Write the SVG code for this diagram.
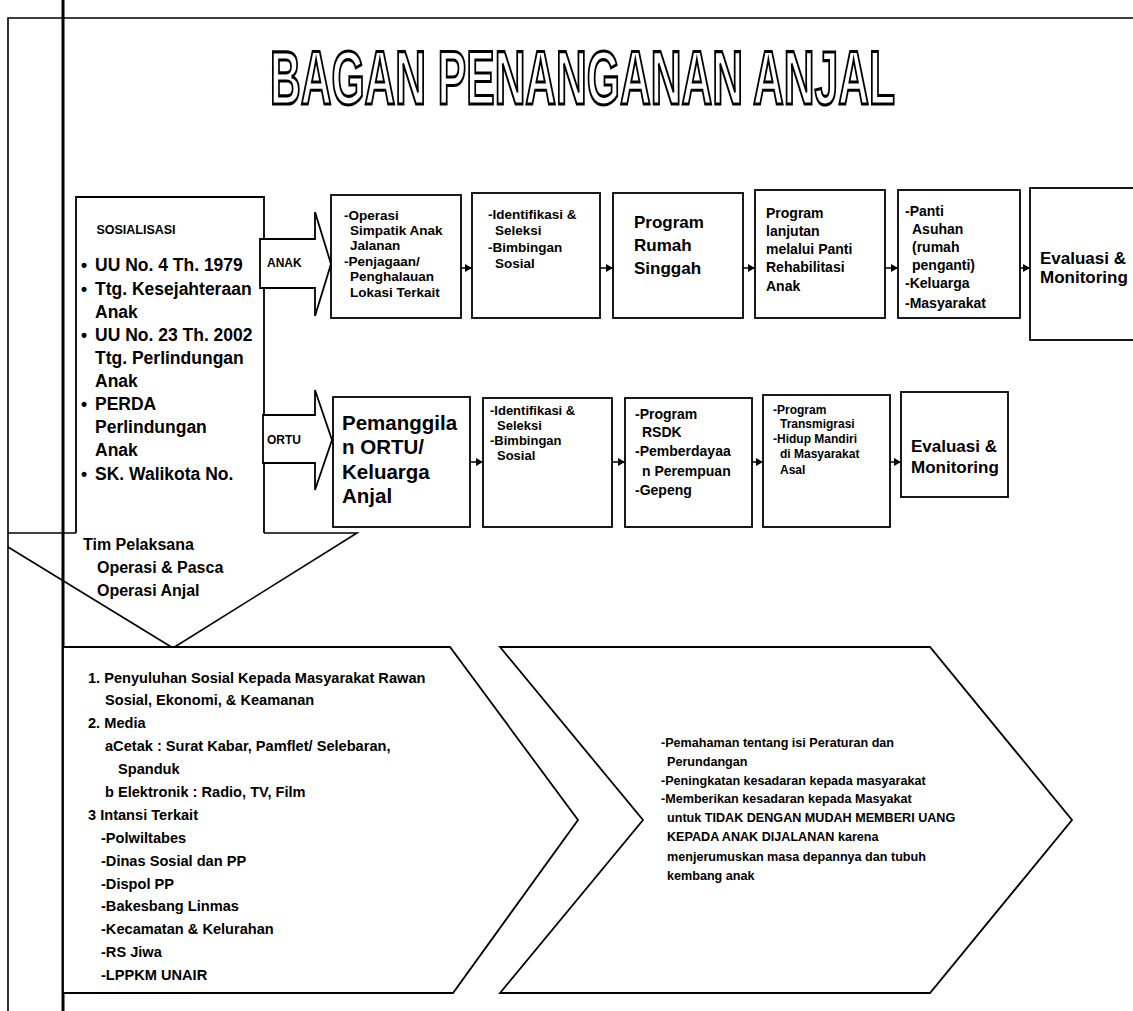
<svg xmlns="http://www.w3.org/2000/svg" width="1133" height="1011" viewBox="0 0 1133 1011">
<style>
.ln{fill:none;stroke:#000;stroke-width:1.6}
.bx{fill:#fff;stroke:#000;stroke-width:1.8}
.t{font-family:'Liberation Sans',Arial,sans-serif;font-weight:bold;fill:#000}
.cn{fill:none;stroke:#000;stroke-width:1.5}
</style>
<defs>
<marker id="ah" markerWidth="8" markerHeight="8" refX="7" refY="4" orient="auto" markerUnits="userSpaceOnUse">
<path d="M0,0 L7,4 L0,8 z" fill="#000"/>
</marker>
</defs>
<rect width="1133" height="1011" fill="#fff"/>

<g id="frame">
<path class="ln" d="M8,1011 V18 H1133"/>
<path class="ln" d="M8,533 H76"/>
<path class="ln" d="M264,533 H357 L173,648 L8,547"/>
<path fill="none" stroke="#000" stroke-width="3" d="M63,0 V1011"/>
<text class="t" font-size="16" x="83" y="550">Tim Pelaksana</text>
<text class="t" font-size="16" x="97" y="573">Operasi &amp; Pasca</text>
<text class="t" font-size="16" x="97" y="596">Operasi Anjal</text>
</g>

<g id="title">
<text transform="scale(1,1.6)" x="270" y="65" font-family="'Liberation Sans',Arial,sans-serif" font-weight="bold" font-size="48" fill="#fff" stroke="#000" stroke-width="2.6" vector-effect="non-scaling-stroke" textLength="625" lengthAdjust="spacingAndGlyphs">BAGAN PENANGANAN ANJAL</text>
</g>

<g id="node-sosialisasi">
<path class="bx" d="M76,533 V197 H264 V533"/>
<text class="t" font-size="12.5" x="136" y="234" text-anchor="middle">SOSIALISASI</text>
<g class="t" font-size="17.5">
<text class="t" x="81" y="271">•</text><text class="t" x="95" y="271">UU No. 4 Th. 1979</text>
<text class="t" x="81" y="295">•</text><text class="t" x="95" y="295">Ttg. Kesejahteraan</text>
<text class="t" x="95" y="318">Anak</text>
<text class="t" x="81" y="341">•</text><text class="t" x="95" y="341">UU No. 23 Th. 2002</text>
<text class="t" x="95" y="364">Ttg. Perlindungan</text>
<text class="t" x="95" y="387">Anak</text>
<text class="t" x="81" y="410">•</text><text class="t" x="95" y="410">PERDA</text>
<text class="t" x="95" y="433">Perlindungan</text>
<text class="t" x="95" y="456">Anak</text>
<text class="t" x="81" y="480">•</text><text class="t" x="95" y="480">SK. Walikota No.</text>
</g>
</g>

<g id="node-anak">
<polygon class="bx" points="260,239 315,239 315,212 331,264 315,316 315,288 260,288"/>
<text class="t" font-size="12" x="267" y="267">ANAK</text>
</g>
<g id="node-ortu">
<polygon class="bx" points="263,415 315,415 315,390 332,440 315,490 315,463 263,463"/>
<text class="t" font-size="12" x="267" y="444">ORTU</text>
</g>

<g id="node-a1">
<rect class="bx" x="331" y="195" width="130" height="123"/>
<g class="t" font-size="13.5">
<text class="t" x="344" y="220">-Operasi</text>
<text class="t" x="350" y="235">Simpatik Anak</text>
<text class="t" x="350" y="250">Jalanan</text>
<text class="t" x="344" y="266">-Penjagaan/</text>
<text class="t" x="350" y="281">Penghalauan</text>
<text class="t" x="350" y="297">Lokasi Terkait</text>
</g>
</g>
<g id="node-a2">
<rect class="bx" x="472" y="193" width="128" height="125"/>
<g class="t" font-size="13.5">
<text class="t" x="488" y="219">-Identifikasi &amp;</text>
<text class="t" x="495" y="235">Seleksi</text>
<text class="t" x="488" y="252">-Bimbingan</text>
<text class="t" x="495" y="268">Sosial</text>
</g>
</g>
<g id="node-a3">
<rect class="bx" x="613" y="193" width="130" height="125"/>
<g class="t" font-size="17">
<text class="t" x="634" y="228">Program</text>
<text class="t" x="634" y="251">Rumah</text>
<text class="t" x="634" y="274">Singgah</text>
</g>
</g>
<g id="node-a4">
<rect class="bx" x="755" y="190" width="130" height="128"/>
<g class="t" font-size="14">
<text class="t" x="766" y="218">Program</text>
<text class="t" x="766" y="236">lanjutan</text>
<text class="t" x="766" y="254">melalui Panti</text>
<text class="t" x="766" y="272">Rehabilitasi</text>
<text class="t" x="766" y="291">Anak</text>
</g>
</g>
<g id="node-a5">
<rect class="bx" x="898" y="190" width="122" height="128"/>
<g class="t" font-size="14">
<text class="t" x="905" y="216">-Panti</text>
<text class="t" x="912" y="234">Asuhan</text>
<text class="t" x="912" y="252">(rumah</text>
<text class="t" x="912" y="270">penganti)</text>
<text class="t" x="905" y="288">-Keluarga</text>
<text class="t" x="905" y="308">-Masyarakat</text>
</g>
</g>
<g id="node-a6">
<rect class="bx" x="1030" y="188" width="110" height="152"/>
<g class="t" font-size="17">
<text class="t" x="1040" y="264">Evaluasi &amp;</text>
<text class="t" x="1040" y="283">Monitoring</text>
</g>
</g>

<g id="node-b1">
<rect class="bx" x="333" y="397" width="137" height="130"/>
<g class="t" font-size="20.5">
<text class="t" x="342" y="430">Pemanggila</text>
<text class="t" x="342" y="454">n ORTU/</text>
<text class="t" x="342" y="479">Keluarga</text>
<text class="t" x="342" y="503">Anjal</text>
</g>
</g>
<g id="node-b2">
<rect class="bx" x="483" y="398" width="129" height="129"/>
<g class="t" font-size="13">
<text class="t" x="490" y="415">-Identifikasi &amp;</text>
<text class="t" x="497" y="430">Seleksi</text>
<text class="t" x="490" y="445">-Bimbingan</text>
<text class="t" x="497" y="460">Sosial</text>
</g>
</g>
<g id="node-b3">
<rect class="bx" x="625" y="398" width="127" height="129"/>
<g class="t" font-size="14">
<text class="t" x="635" y="419">-Program</text>
<text class="t" x="642" y="437">RSDK</text>
<text class="t" x="635" y="456">-Pemberdayaa</text>
<text class="t" x="642" y="476">n Perempuan</text>
<text class="t" x="635" y="495">-Gepeng</text>
</g>
</g>
<g id="node-b4">
<rect class="bx" x="763" y="395" width="127" height="132"/>
<g class="t" font-size="12">
<text class="t" x="773" y="414">-Program</text>
<text class="t" x="780" y="428">Transmigrasi</text>
<text class="t" x="773" y="443">-Hidup Mandiri</text>
<text class="t" x="780" y="458">di Masyarakat</text>
<text class="t" x="780" y="474">Asal</text>
</g>
</g>
<g id="node-b5">
<rect class="bx" x="901" y="392" width="107" height="105"/>
<g class="t" font-size="17">
<text class="t" x="911" y="452">Evaluasi &amp;</text>
<text class="t" x="911" y="473">Monitoring</text>
</g>
</g>

<g id="node-chevron-left">
<polygon class="bx" points="63,647 450,647 578,820 453,993 63,993"/>
<g class="t" font-size="14.6">
<text class="t" x="88" y="683">1. Penyuluhan Sosial Kepada Masyarakat Rawan</text>
<text class="t" x="105" y="705">Sosial, Ekonomi, &amp; Keamanan</text>
<text class="t" x="88" y="728">2. Media</text>
<text class="t" x="105" y="751">aCetak : Surat Kabar, Pamflet/ Selebaran,</text>
<text class="t" x="118" y="774">Spanduk</text>
<text class="t" x="105" y="797">b Elektronik : Radio, TV, Film</text>
<text class="t" x="88" y="820">3  Intansi Terkait</text>
<text class="t" x="101" y="843">-Polwiltabes</text>
<text class="t" x="101" y="866">-Dinas Sosial dan PP</text>
<text class="t" x="101" y="889">-Dispol PP</text>
<text class="t" x="101" y="911">-Bakesbang Linmas</text>
<text class="t" x="101" y="934">-Kecamatan &amp; Kelurahan</text>
<text class="t" x="101" y="957">-RS Jiwa</text>
<text class="t" x="101" y="980">-LPPKM UNAIR</text>
</g>
</g>

<g id="node-chevron-right">
<polygon class="bx" points="500,647 930,647 1072,820 930,993 500,993 643,820"/>
<g class="t" font-size="12.6">
<text class="t" x="661" y="747">-Pemahaman tentang isi Peraturan dan</text>
<text class="t" x="667" y="766">Perundangan</text>
<text class="t" x="661" y="785">-Peningkatan kesadaran kepada masyarakat</text>
<text class="t" x="661" y="803">-Memberikan kesadaran kepada Masyakat</text>
<text class="t" x="667" y="822">untuk TIDAK DENGAN MUDAH MEMBERI UANG</text>
<text class="t" x="667" y="841">KEPADA ANAK DIJALANAN karena</text>
<text class="t" x="667" y="861">menjerumuskan masa depannya dan tubuh</text>
<text class="t" x="667" y="880">kembang anak</text>
</g>
</g>

<g id="connectors">
<line class="cn" x1="461" y1="268" x2="472" y2="268" marker-end="url(#ah)"/>
<line class="cn" x1="600" y1="268" x2="613" y2="268" marker-end="url(#ah)"/>
<line class="cn" x1="743" y1="268" x2="755" y2="268" marker-end="url(#ah)"/>
<line class="cn" x1="885" y1="268" x2="898" y2="268" marker-end="url(#ah)"/>
<line class="cn" x1="1020" y1="268" x2="1030" y2="268" marker-end="url(#ah)"/>
<line class="cn" x1="470" y1="462" x2="483" y2="462" marker-end="url(#ah)"/>
<line class="cn" x1="612" y1="462" x2="625" y2="462" marker-end="url(#ah)"/>
<line class="cn" x1="752" y1="462" x2="763" y2="462" marker-end="url(#ah)"/>
<line class="cn" x1="890" y1="462" x2="901" y2="462" marker-end="url(#ah)"/>
</g>
</svg>
